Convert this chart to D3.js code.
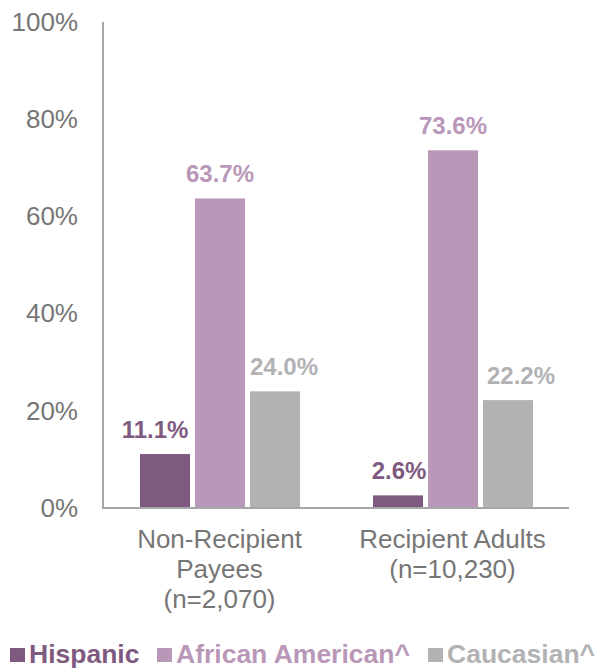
<!DOCTYPE html>
<html>
<head>
<meta charset="utf-8">
<script src="https://cdn.jsdelivr.net/npm/d3@7"></script>
<style>
  html, body { margin: 0; padding: 0; background: #fff; }
  svg { display: block; font-family: "Liberation Sans", Arial, sans-serif; }
</style>
</head>
<body>
<svg id="chart" width="598" height="668"></svg>
<script>
const categories = [["Non-Recipient", "Payees", "(n=2,070)"], ["Recipient Adults", "(n=10,230)"]];
const categoryKeys = ["Non-Recipient Payees", "Recipient Adults"];
const seriesNames = ["Hispanic", "African American^", "Caucasian^"];
const hispanic = [11.1, 2.6];
const africanAmerican = [63.7, 73.6];
const caucasian = [24.0, 22.2];
const seriesColors = ["#7f5a80", "#b997b8", "#b2b2b5"];
const yTicks = [0, 20, 40, 60, 80, 100];

(function () {
const seriesValues = [hispanic, africanAmerican, caucasian];
const svg = d3.select("#chart");
const mLeft = 103, mRight = 569, mTop = 22, mBottom = 508;
const textGray = "#767676";
// small horizontal nudges of value labels as in the reference [category][series]
const labelNudge = [[-10, 0, 9], [1, 0, 13]];

const x0 = d3.scaleBand().domain(categoryKeys).range([mLeft, mRight]).paddingInner(0).paddingOuter(0);
const x1 = d3.scaleBand().domain(seriesNames).range([0, 160]).paddingInner(5 / 55).paddingOuter(0);
const groupOffset = 37;
const y = d3.scaleLinear().domain([0, 100]).range([mBottom, mTop]);

// Y axis labels
const yAxis = d3.axisLeft(y).tickValues(yTicks).tickFormat(d => d + "%").tickSize(0).tickPadding(25);
const yg = svg.append("g").attr("transform", `translate(${mLeft},0)`).call(yAxis);
yg.select(".domain").remove();
yg.selectAll("text").attr("font-size", 26).attr("fill", textGray)
  .attr("font-family", '"Liberation Sans", Arial, sans-serif');

// Bars
const groups = svg.selectAll("g.grp").data(categoryKeys).enter().append("g")
  .attr("class", "grp")
  .attr("transform", d => `translate(${x0(d) + groupOffset},0)`);

groups.each(function(cat, ci) {
  const g = d3.select(this);
  seriesNames.forEach((s, si) => {
    const v = seriesValues[si][ci];
    g.append("rect")
      .attr("x", x1(s))
      .attr("y", y(v))
      .attr("width", x1.bandwidth())
      .attr("height", y(0) - y(v))
      .attr("fill", seriesColors[si]);
    g.append("text")
      .attr("x", x1(s) + x1.bandwidth() / 2 + labelNudge[ci][si])
      .attr("y", y(v) - 16)
      .attr("text-anchor", "middle")
      .attr("font-size", 24)
      .attr("font-weight", "bold")
      .attr("fill", seriesColors[si])
      .text(v.toFixed(1) + "%");
  });
});

// Axis lines
svg.append("line").attr("x1", mLeft).attr("x2", mLeft).attr("y1", mTop).attr("y2", mBottom)
  .attr("stroke", "#a6a6a6").attr("stroke-width", 2);
svg.append("line").attr("x1", mLeft - 1).attr("x2", mRight).attr("y1", mBottom).attr("y2", mBottom)
  .attr("stroke", "#a6a6a6").attr("stroke-width", 2);

// Category labels
categoryKeys.forEach((k, ci) => {
  const cx = x0(k) + x0.bandwidth() / 2;
  const t = svg.append("text")
    .attr("x", cx)
    .attr("y", 548)
    .attr("text-anchor", "middle")
    .attr("font-size", 26)
    .attr("fill", textGray);
  categories[ci].forEach((line, li) => {
    t.append("tspan").attr("x", cx).attr("dy", li === 0 ? 0 : 30).text(line);
  });
});

// Legend
const legendX = [10, 157, 428];
seriesNames.forEach((s, si) => {
  svg.append("rect").attr("x", legendX[si]).attr("y", 648).attr("width", 15).attr("height", 14)
    .attr("fill", seriesColors[si]);
  svg.append("text").attr("x", legendX[si] + 19).attr("y", 663)
    .attr("font-size", 26.5).attr("font-weight", "bold").attr("fill", seriesColors[si]).text(s);
});
})();
</script>
</body>
</html>
